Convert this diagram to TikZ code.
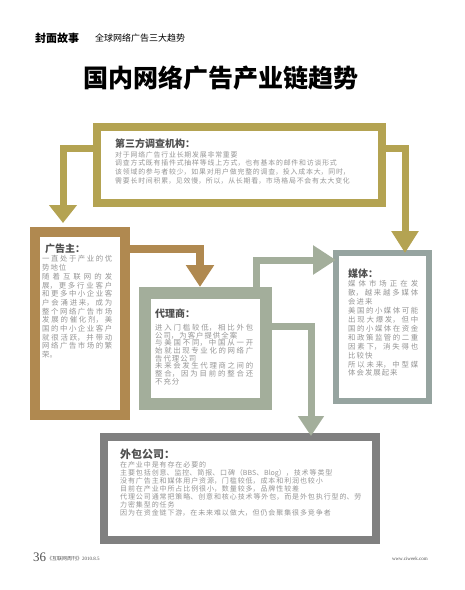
\documentclass[tikz,border=0pt]{standalone}
\usepackage{fontspec}
\usepackage{xcolor}
\usepackage{tikz}
\usetikzlibrary{arrows.meta}

\setmainfont{Liberation Serif}
\newfontfamily\cjk{Noto Sans CJK SC}
\XeTeXlinebreaklocale "zh"
\XeTeXlinebreakskip = 0pt plus 1pt
\tolerance=9999

\definecolor{gold}{RGB}{180,163,82}
\definecolor{brown}{RGB}{176,137,80}
\definecolor{sage}{RGB}{163,174,155}
\definecolor{slate}{RGB}{150,164,160}
\definecolor{darkgrey}{RGB}{128,128,128}
\definecolor{headgrey}{RGB}{80,80,80}
\definecolor{bodygrey}{RGB}{150,150,150}

% tracked body text: size, line skip, gap between characters
\newcommand\bodyfont[3]{\cjk\fontsize{#1}{#2}\selectfont\XeTeXlinebreakskip=#3 plus 1.5pt\relax}

\begin{document}
\begin{tikzpicture}[x=1pt, y=-1pt,
  frame/.style={draw, fill=white, inner sep=0pt},
  link/.style={line width=7pt},
  head/.style={anchor=west, inner sep=0pt, text=headgrey,
    font=\cjk\bfseries\fontsize{10}{12}\selectfont},
  body/.style={anchor=north west, inner sep=0pt, text width=290pt, align=left, text=bodygrey,
    font=\bodyfont{6.9}{8.8}{0.8pt}},
  coltext/.style={anchor=north west, inner sep=0pt, text width=#1, align=justify,
    text=bodygrey, font=\bodyfont{7.4}{8.7}{1pt}}]

\useasboundingbox (0,0) rectangle (465,590);

% header
\node[anchor=west, inner sep=0pt, font=\cjk\bfseries\fontsize{11}{11}\selectfont] (section) at (35,38) {封面故事};
\node[anchor=west, inner sep=0pt, font=\cjk\fontsize{9}{9}\selectfont] (topic) at (95,38) {全球网络广告三大趋势};
\node[inner sep=0pt, font=\cjk\bfseries\fontsize{25}{25}\selectfont] (title) at (221,78) {国内网络广告产业链趋势};

% boxes (outer edge = size + line width)
\node[frame, draw=gold, line width=8pt, minimum width=285pt, minimum height=76pt] (survey) at (239.5,165) {};
\node[frame, draw=brown, line width=10pt, minimum width=90pt, minimum height=183pt] (adv) at (80,323.5) {};
\node[frame, draw=sage, line width=12pt, minimum width=121pt, minimum height=111pt] (agent) at (205.5,348.5) {};
\node[frame, draw=slate, line width=6pt, minimum width=93pt, minimum height=148pt] (media) at (382.5,327) {};
\node[frame, draw=darkgrey, line width=8pt, minimum width=272pt, minimum height=103pt] (outsrc) at (240,488.5) {};

% connectors
\draw[link, draw=gold, -{Triangle[length=18pt,width=27pt]}, shorten >=4pt]
  (survey.west |- 0,148) -| (adv.north -| 63,0);
\draw[link, draw=gold, -{Triangle[length=22pt,width=26pt]}, shorten >=-3pt]
  (survey.east |- 0,148) -| (media.north -| 405,0);
\draw[link, line width=8pt, draw=brown, -{Triangle[length=22pt,width=27pt]}]
  (adv.east |- 0,249) -| (agent.north -| 200,0);
\draw[link, draw=sage, -{Triangle[length=23pt,width=28pt]}, shorten >=-3pt]
  (agent.north -| 256,0) |- (media.west |- 0,260);
\draw[link, draw=sage, -{Triangle[length=20pt,width=25pt]}, shorten >=-3pt]
  (agent.east |- 0,326) -| (outsrc.north -| 311,0);

% survey text
\node[head] (surveyhead) at (115,144) {第三方调查机构：};
\node[body] (surveytext) at (115,151) {对于网络广告行业长期发展非常重要\\
调查方式既有插件式抽样等线上方式，也有基本的邮件和访谈形式\\
该领域的参与者较少，如果对用户做完整的调查，投入成本大，同时，\\
需要长时间积累，见效慢，所以，从长期看，市场格局不会有太大变化};

% advertiser text
\node[head] (advhead) at (45,249) {广告主：};
\node[coltext=70pt] (advtext) at (42,255.5) {一直处于产业的优势地位\\
随着互联网的发展，更多行业客户和更多中小企业客户会涌进来，成为整个网络广告市场发展的催化剂，美国的中小企业客户就很活跃，并带动网络广告市场的繁荣。};

% agent text
\node[head] (agenthead) at (155,314) {代理商：};
\node[coltext=98pt, font=\bodyfont{7.4}{7.7}{1pt}] (agenttext) at (155,324) {进入门槛较低，相比外包公司，为客户提供全案\\
与美国不同，中国从一开始就出现专业化的网络广告代理公司\\
未来会发生代理商之间的整合，因为目前的整合还不充分};

% media text
\node[head] (mediahead) at (348,274) {媒体：};
\node[coltext=70pt, font=\bodyfont{7.4}{8.9}{1pt}] (mediatext) at (348,280.5) {媒体市场正在发散，越来越多媒体会进来\\
美国的小媒体可能出现大爆发，但中国的小媒体在资金和政策监管的二重因素下，消失得也比较快\\
所以未来，中型媒体会发展起来};

% outsourcing text
\node[head, font=\cjk\bfseries\fontsize{11}{12}\selectfont] (outhead) at (120,454) {外包公司：};
\node[body, font=\bodyfont{7}{7.9}{0.9pt}] (outtext) at (120,461.5) {在产业中是有存在必要的\\
主要包括创意、监控、简报、口碑（BBS、Blog），技术等类型\\
没有广告主和媒体用户资源，门槛较低，成本和利润也较小\\
目前在产业中所占比例很小，数量较多，品牌性较差\\
代理公司通常把策略、创意和核心技术等外包，而是外包执行型的、劳\\
力密集型的任务\\
因为在资金链下游，在未来难以做大，但仍会聚集很多竞争者};

% footer
\node[anchor=base west, inner sep=0pt, font=\fontsize{13}{13}\selectfont, text=headgrey] (page) at (33,561) {36};
\node[anchor=base west, inner sep=0pt, font=\fontsize{5}{5}\selectfont, text=headgrey] (issue) at (47,560) {{\cjk《互联网周刊》}2010.8.5};
\node[anchor=base east, inner sep=0pt, font=\fontsize{5}{5}\selectfont, text=headgrey] (site) at (428,560) {www.ciweek.com};

\end{tikzpicture}
\end{document}
